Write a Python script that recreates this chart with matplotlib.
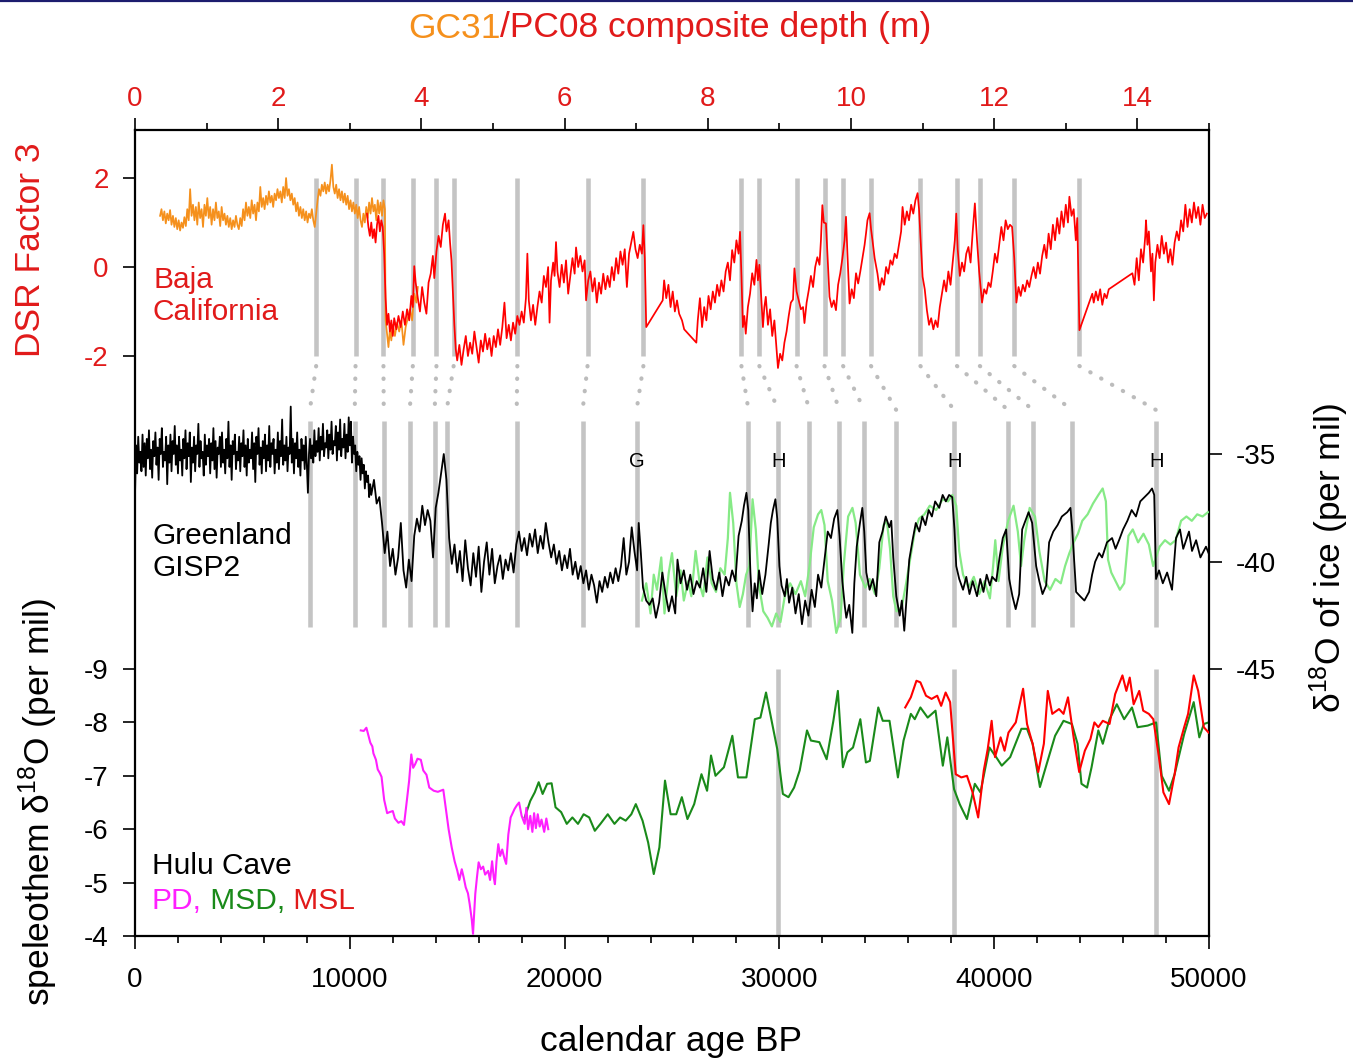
import numpy as np
import matplotlib
matplotlib.use("Agg")
import matplotlib.pyplot as plt
from matplotlib.patches import ConnectionPatch
from matplotlib.lines import Line2D

plt.rcParams['font.family'] = ['Liberation Sans', 'DejaVu Sans']
plt.rcParams['axes.unicode_minus'] = False
plt.rcParams['mathtext.fontset'] = 'custom'
plt.rcParams['mathtext.rm'] = 'Liberation Sans'
plt.rcParams['mathtext.it'] = 'Liberation Sans:italic'

# ---------------- data ----------------
# GC31 (orange) : composite depth (m), DSR factor 3
gc31_depth = [0.35,0.37,0.39,0.41,0.43,0.45,0.47,0.49,0.51,0.53,0.55,0.57,0.59,0.61,0.63,0.65,0.67,0.69,0.71,0.73,
              0.75,0.77,0.79,0.81,0.83,0.85,0.87,0.89,0.91,0.93,0.95,0.97,0.99,1.01,1.03,1.05,1.07,1.09,1.11,1.13,
              1.15,1.17,1.19,1.21,1.23,1.25,1.27,1.29,1.31,1.33,1.35,1.37,1.39,1.41,1.43,1.45,1.47,1.49,1.51,1.53,
              1.55,1.57,1.59,1.61,1.63,1.65,1.67,1.69,1.71,1.73,1.75,1.77,1.79,1.81,1.83,1.85,1.87,1.89,1.91,1.93,
              1.95,1.97,1.99,2.01,2.03,2.05,2.07,2.09,2.11,2.13,2.15,2.17,2.19,2.21,2.23,2.25,2.27,2.29,2.31,2.33,
              2.35,2.37,2.39,2.41,2.43,2.45,2.47,2.49,2.51,2.53,2.55,2.57,2.59,2.61,2.63,2.65,2.67,2.69,2.71,2.73,
              2.75,2.77,2.79,2.81,2.83,2.85,2.87,2.89,2.91,2.93,2.95,2.97,2.99,3.01,3.03,3.05,3.07,3.09,3.11,3.13,
              3.15,3.17,3.19,3.21,3.23,3.25,3.27,3.29,3.31,3.33,3.35,3.37,3.39,3.41,3.43,3.45,3.47,3.49,3.50,3.52,
              3.54,3.56,3.58,3.60,3.63,3.66,3.69,3.72,3.75,3.78,3.81,3.84,3.87,3.90,3.93,3.95]
gc31_dsr = [1.15,1.30,1.05,1.25,0.98,1.20,1.05,1.28,0.95,1.15,0.90,1.10,0.85,1.05,0.82,1.00,0.88,1.12,0.92,1.30,
            1.05,1.75,1.15,1.40,1.05,1.35,0.95,1.45,1.10,1.30,0.90,1.40,1.15,1.55,1.10,1.35,0.95,1.30,1.05,1.45,
            1.10,1.25,0.92,1.35,1.05,1.20,0.95,1.15,0.90,1.10,0.85,1.05,0.90,1.15,0.95,0.85,1.10,0.92,1.30,1.05,
            1.45,1.15,1.35,1.10,1.50,1.20,1.40,1.05,1.45,1.25,1.80,1.35,1.55,1.30,1.60,1.40,1.70,1.45,1.60,1.35,
            1.65,1.50,1.75,1.55,1.70,1.45,1.80,1.55,2.00,1.60,1.75,1.50,1.65,1.40,1.55,1.25,1.45,1.15,1.35,1.10,
            1.30,1.05,1.25,1.00,1.20,1.10,1.30,1.05,0.90,1.20,1.50,1.75,1.60,1.85,1.70,1.90,1.65,1.85,1.70,1.95,
            2.30,1.80,1.65,1.85,1.55,1.75,1.50,1.70,1.45,1.65,1.40,1.60,1.30,1.50,1.25,1.45,1.20,1.40,1.10,1.35,
            1.05,0.90,1.20,1.00,1.35,1.10,1.45,1.20,1.55,1.25,1.40,1.05,1.50,1.20,1.45,1.15,1.50,1.30,-1.20,-1.50,
            -1.80,-1.40,-1.65,-1.30,-1.55,-1.25,-1.45,-1.20,-1.75,-1.35,-1.15,-0.95,-1.20,-0.60,-0.80,-0.45]

# PC08 (red) : composite depth (m), DSR factor 3
pc08_depth = [3.24,3.26,3.28,3.30,3.32,3.34,3.36,3.38,3.40,3.42,3.44,3.46,3.48,3.50,3.52,3.54,3.56,3.58,3.60,3.62,
              3.65,3.68,3.71,3.74,3.77,3.80,3.83,3.86,3.88,3.90,3.92,3.95,3.98,4.01,4.04,4.07,4.10,4.13,4.16,4.18,
              4.21,4.24,4.27,4.30,4.33,4.35,4.38,4.40,4.42,4.44,4.46,4.48,4.50,4.53,4.56,4.59,4.62,4.65,4.68,4.71,
              4.74,4.77,4.80,4.83,4.86,4.89,4.92,4.95,4.98,5.01,5.04,5.07,5.10,5.13,5.16,5.19,5.22,5.25,5.28,5.31,
              5.34,5.37,5.40,5.43,5.46,5.48,5.50,5.53,5.56,5.59,5.62,5.65,5.68,5.71,5.74,5.77,5.79,5.81,5.84,5.86,
              5.88,5.90,5.93,5.96,5.99,6.02,6.05,6.08,6.11,6.14,6.16,6.19,6.22,6.25,6.28,6.30,6.33,6.36,6.39,6.42,
              6.45,6.48,6.51,6.54,6.57,6.60,6.63,6.66,6.69,6.72,6.75,6.78,6.81,6.84,6.87,6.90,6.93,6.96,6.99,7.02,
              7.05,7.08,7.10,7.12,7.14,7.37,7.39,7.42,7.45,7.48,7.51,7.54,7.57,7.60,7.64,7.67,7.84,7.86,7.89,7.92,
              7.95,7.98,8.01,8.04,8.07,8.10,8.13,8.16,8.19,8.22,8.25,8.28,8.31,8.34,8.37,8.40,8.43,8.45,8.47,8.49,
              8.51,8.53,8.56,8.59,8.62,8.65,8.68,8.70,8.72,8.75,8.77,8.79,8.81,8.84,8.87,8.90,8.93,8.96,8.98,9.01,
              9.04,9.07,9.10,9.13,9.16,9.19,9.21,9.24,9.27,9.30,9.33,9.35,9.38,9.41,9.44,9.47,9.50,9.53,9.56,9.58,
              9.60,9.62,9.65,9.67,9.70,9.73,9.76,9.79,9.82,9.85,9.88,9.91,9.93,9.95,9.98,10.01,10.04,10.07,10.10,10.13,
              10.16,10.19,10.21,10.23,10.26,10.28,10.30,10.33,10.37,10.40,10.43,10.46,10.49,10.52,10.55,10.58,10.61,10.64,10.67,10.70,
              10.72,10.75,10.78,10.81,10.84,10.87,10.90,10.93,10.95,10.97,11.00,11.03,11.06,11.09,11.12,11.15,11.18,11.21,11.24,11.27,
              11.30,11.33,11.36,11.39,11.42,11.45,11.47,11.49,11.52,11.55,11.58,11.61,11.64,11.67,11.70,11.73,11.76,11.79,11.83,11.86,
              11.89,11.92,11.95,11.98,12.01,12.04,12.07,12.10,12.13,12.16,12.19,12.22,12.25,12.28,12.31,12.34,12.37,12.40,12.43,12.46,
              12.49,12.52,12.55,12.58,12.61,12.64,12.67,12.70,12.73,12.76,12.79,12.82,12.85,12.88,12.91,12.94,12.97,13.00,13.03,13.05,
              13.08,13.11,13.14,13.16,13.19,13.37,13.39,13.42,13.45,13.48,13.51,13.54,13.57,13.60,13.93,13.96,13.99,14.02,14.05,14.08,
              14.11,14.12,14.14,14.16,14.19,14.21,14.23,14.25,14.28,14.31,14.34,14.37,14.40,14.43,14.46,14.49,14.52,14.55,14.58,14.61,
              14.64,14.67,14.70,14.73,14.76,14.79,14.82,14.85,14.88,14.91,14.94,14.97]
pc08_dsr = [1.20,0.90,0.70,1.00,0.65,0.85,0.55,0.95,1.15,0.80,1.05,0.90,0.30,-0.70,-1.30,-1.05,-1.45,-1.20,-1.55,-1.15,
            -1.40,-1.10,-1.35,-1.00,-1.30,-0.95,-1.20,-0.65,-0.90,0.02,-0.35,-0.70,-1.00,-0.45,-0.80,-1.05,-0.35,-0.15,0.25,-0.25,
            0.35,0.70,0.45,0.95,1.20,0.80,1.05,0.55,0.15,-0.60,-1.30,-1.85,-2.10,-1.75,-2.20,-1.85,-1.55,-2.00,-1.70,-1.95,
            -1.45,-1.80,-2.15,-1.65,-1.90,-1.50,-1.85,-1.60,-2.00,-1.55,-1.80,-1.40,-1.75,-1.35,-0.80,-1.60,-1.30,-1.65,-1.25,-1.50,
            -1.10,-1.30,-1.00,-1.25,-0.70,0.30,-0.75,-1.20,-0.85,-1.30,-0.90,-0.55,-0.80,-0.20,-0.45,0.00,-1.25,-0.30,0.10,-0.20,
            0.56,-0.10,-0.45,0.05,-0.35,0.15,-0.60,-0.20,0.20,-0.15,0.44,0.00,0.25,-0.10,0.15,-0.75,-0.30,-0.10,-0.55,-0.25,
            -0.80,-0.35,-0.60,-0.15,-0.50,-0.20,-0.45,0.00,-0.30,0.20,-0.15,0.35,0.05,0.40,-0.45,0.30,0.55,0.79,0.40,0.20,
            0.50,0.30,0.94,0.20,-1.35,-0.75,-0.30,-0.70,-0.40,-0.90,-0.55,-1.00,-0.75,-1.05,-1.20,-1.40,-1.70,-1.20,-0.70,-1.35,
            -0.90,-1.20,-0.65,-0.95,-0.55,-0.80,-0.40,-0.65,-0.30,-0.55,-0.10,0.10,-0.30,0.38,0.10,0.60,0.30,0.79,-0.20,-1.35,
            -1.10,-1.50,-0.90,-0.60,-0.14,-0.40,0.16,-0.30,0.05,-0.80,-1.35,-0.90,-0.67,-1.30,-0.95,-1.55,-1.20,-1.85,-2.27,-1.95,
            -2.10,-1.70,-1.45,-1.10,-0.80,-0.73,-0.03,-0.55,-0.75,-0.95,-0.90,-1.26,-0.80,-0.52,-0.20,-0.45,0.00,0.22,0.05,0.60,
            1.39,1.00,0.98,0.30,-0.67,-0.90,-0.75,-0.97,-0.40,-0.14,0.20,0.60,1.13,0.30,-0.82,-0.50,-0.70,-0.14,-0.37,-0.10,
            0.20,0.50,0.76,1.05,1.21,0.85,0.60,0.20,-0.15,-0.52,-0.25,-0.40,0.00,-0.15,0.15,0.05,0.30,0.20,0.50,0.80,
            1.35,0.95,1.25,1.05,1.40,1.20,1.50,1.66,1.30,0.67,-0.22,-0.50,-0.97,-1.30,-1.15,-1.40,-1.20,-1.35,-0.90,-0.60,
            -0.30,-0.55,-0.10,-0.40,0.10,0.60,1.20,0.40,-0.20,0.10,-0.10,0.30,0.45,0.10,0.80,1.43,0.60,-0.10,-0.80,-0.50,
            -0.60,-0.35,-0.45,-0.10,0.30,0.10,0.50,0.90,0.60,1.05,0.85,0.95,0.90,0.20,-0.80,-0.45,-0.65,-0.40,-0.55,-0.30,
            -0.45,-0.20,0.00,-0.25,0.10,-0.15,0.25,0.50,0.20,0.75,0.40,0.95,0.60,1.10,0.75,1.25,0.90,1.40,1.00,1.58,
            1.15,1.30,0.60,1.10,-1.42,-0.60,-0.80,-0.55,-0.75,-0.50,-0.85,-0.60,-0.70,-0.50,-0.14,-0.40,0.20,-0.30,0.40,0.10,
            0.70,1.05,0.50,0.80,-0.10,0.30,-0.75,0.10,0.50,0.20,0.70,0.30,0.55,0.10,0.40,0.05,0.55,0.80,0.60,1.05,
            0.80,1.40,0.90,1.30,1.00,1.45,1.10,1.35,0.95,1.40,1.10,1.20]

# GISP2 (black): calendar age BP, d18O of ice (per mil)
# Holocene part sampled every 50 yr from 0 BP
gisp2_holo_step = 50
gisp2_holo = [-36.9,-34.6,-35.9,-34.2,-35.4,-34.9,-35.8,-34.1,-35.6,-34.5,
              -36.0,-34.3,-35.2,-33.9,-35.7,-34.8,-36.1,-34.4,-35.1,-34.0,
              -35.5,-34.7,-36.2,-34.3,-35.0,-33.8,-35.6,-34.9,-35.3,-34.2,
              -36.4,-34.6,-35.4,-34.1,-35.8,-34.4,-35.0,-33.7,-35.5,-34.6,
              -35.9,-34.2,-35.3,-34.8,-36.0,-34.3,-35.2,-33.9,-35.7,-34.5,
              -35.1,-34.0,-36.3,-34.7,-35.4,-34.2,-35.8,-34.6,-35.0,-33.6,
              -35.6,-34.4,-35.2,-34.9,-36.0,-34.1,-35.5,-34.6,-35.1,-34.3,
              -35.9,-34.5,-35.3,-33.8,-35.7,-34.4,-36.1,-34.7,-35.0,-34.2,
              -35.6,-34.0,-35.4,-34.8,-35.9,-34.3,-35.2,-33.5,-35.6,-34.6,
              -36.2,-34.4,-35.0,-34.1,-35.7,-34.9,-35.3,-34.2,-35.8,-34.5,
              -35.1,-33.9,-35.6,-34.6,-36.0,-34.3,-35.4,-34.8,-35.2,-34.0,
              -35.7,-34.5,-36.3,-34.2,-35.0,-33.8,-35.5,-34.7,-35.9,-34.4,
              -35.2,-34.1,-35.8,-34.6,-35.3,-33.7,-35.6,-34.5,-35.0,-34.3,
              -35.9,-34.8,-35.4,-34.0,-35.7,-34.4,-35.1,-33.4,-35.5,-34.6,
              -35.3,-34.2,-35.8,-34.7,-35.0,-32.8,-35.4,-34.3,-35.9,-34.5,
              -35.2,-34.0,-35.6,-34.8,-36.0,-34.3,-35.3,-34.6,-35.7,-34.2,
              -35.5,-36.8,-35.0,-34.3,-35.2,-34.6,-35.4,-33.9,-35.1,-34.4,
              -34.9,-33.8,-35.3,-34.2,-34.8,-33.6,-35.1,-34.5,-34.7,-33.9,
              -35.2,-34.1,-34.8,-33.5,-35.0,-34.4,-34.6,-33.7,-35.3,-34.0,
              -34.8,-33.4,-35.1,-34.3,-34.7,-33.6,-35.2,-34.1,-34.9,-33.3,
              -34.6,-33.5,-35.4,-34.2,-35.0,-34.6,-35.8,-34.9,-35.5,-35.1,
              -36.2,-35.2,-35.9,-35.5,-36.6,-35.8,-36.3,-36.0,-37.0,-36.4]
# deglacial / LGM part sampled every 125 yr from 11000 BP
gisp2_degl_start = 11000
gisp2_degl_step = 125
gisp2_degl = [-36.9,-36.2,
              -37.3,-37.0,-38.2,-39.6,-38.6,-40.2,-39.4,-40.6,-39.8,-38.2,
              -40.4,-41.2,-39.9,-40.9,-38.8,-38.0,-38.6,-37.4,-38.3,-37.6,
              -38.1,-39.8,-37.5,-36.8,-35.9,-35.0,-36.2,-38.9,-40.1,-39.2,
              -40.5,-39.5,-40.9,-39.0,-40.3,-41.1,-39.6,-40.7,-39.3,-41.4,
              -40.0,-39.1,-40.6,-39.4,-41.0,-40.2,-39.7,-40.8,-39.9,-40.4,
              -39.6,-40.5,-39.2,-38.6,-39.5,-38.9,-39.7,-38.7,-39.3,-38.5,
              -39.6,-38.8,-39.4,-38.2,-39.1,-39.8,-39.2,-40.1,-39.5,-40.4,
              -39.7,-40.3,-39.4,-40.6,-40.0,-40.8,-40.2,-41.0,-40.4,-41.3,
              -40.6,-41.1,-41.9,-40.9,-41.4,-40.7,-41.2,-40.5,-41.0,-40.3,
              -40.9,-40.2,-38.9,-40.6,-40.0,-38.4,-39.5,-40.4]
gisp2_late = [(23450,-38.2),(23550,-39.6),(23650,-41.2),(23800,-41.8),(23950,-42.0),(24100,-41.7),(24250,-42.6),
              (24400,-41.9),(24550,-40.5),(24700,-41.5),(24850,-42.3),(25000,-41.6),(25150,-42.4),(25255,-39.9),
              (25400,-41.0),(25550,-40.4),(25700,-41.3),(25850,-40.6),(26000,-41.5),(26150,-40.9),(26300,-41.2),
              (26450,-40.3),(26600,-41.4),(26750,-39.5),(26900,-40.8),(27050,-41.3),(27200,-40.5),(27350,-41.6),
              (27500,-40.7),(27650,-41.1),(27800,-40.4),(27950,-40.9),(28100,-38.8),(28250,-38.1),(28350,-37.4),
              (28465,-36.8),(28550,-37.6),(28650,-40.5),(28750,-42.3),(28850,-41.0),(28950,-41.7),(29050,-40.4),
              (29200,-41.5),(29350,-40.6),(29500,-39.2),(29600,-38.2),(29700,-37.6),(29813,-37.1),(29900,-38.0),
              (30000,-40.2),(30100,-41.1),(30250,-41.6),(30350,-40.8),(30450,-41.9),(30600,-41.2),(30750,-42.4),
              (30900,-41.5),(31050,-42.9),(31200,-41.8),(31350,-42.5),(31500,-41.3),(31650,-42.1),(31800,-40.6),
              (31950,-41.2),(32100,-39.9),(32250,-38.6),(32400,-38.9),(32550,-38.0),(32697,-37.6),(32800,-38.8),
              (32930,-40.9),(33050,-42.1),(33116,-42.6),(33250,-42.0),(33395,-43.3),(33488,-41.0),(33600,-39.3),
              (33750,-38.2),(33860,-37.5),(33950,-38.6),(34046,-40.5),(34200,-41.3),(34350,-40.8),(34511,-41.6),
              (34651,-39.1),(34800,-38.6),(34950,-37.9),(35116,-38.4),(35209,-38.1),(35300,-39.8),(35442,-41.6),
              (35600,-42.5),(35700,-41.8),(35813,-43.2),(35950,-41.3),(36046,-39.9),(36200,-39.0),(36350,-38.2),
              (36511,-38.6),(36650,-37.9),(36800,-38.3),(36950,-37.6),(37100,-37.9),(37250,-37.2),(37441,-37.5),
              (37600,-36.9),(37750,-37.2),(37900,-36.9),(38046,-37.0),(38150,-38.5),(38232,-40.2),(38372,-40.8),
              (38550,-41.3),(38700,-40.7),(38850,-41.5),(39000,-40.9),(39200,-41.6),(39350,-40.8),(39500,-41.4),
              (39650,-40.6),(39800,-41.1),(39906,-40.7),(40092,-40.9),(40250,-39.8),(40400,-38.9),(40557,-38.5),
              (40697,-40.8),(40850,-41.6),(41000,-42.2),(41162,-41.5),(41302,-38.5),(41450,-38.1),(41600,-37.7),
              (41767,-38.2),(41953,-40.2),(42100,-40.9),(42250,-41.5),(42418,-41.1),(42557,-39.1),(42750,-38.6),
              (42950,-38.3),(43150,-37.9),(43400,-37.7),(43550,-37.5),(43627,-38.4),(43813,-41.4),(44000,-41.6),
              (44200,-41.8),(44418,-41.4),(44558,-40.6),(44700,-40.0),(44883,-39.6),(45023,-39.8),(45250,-39.1),
              (45488,-38.9),(45650,-39.4),(45813,-39.0),(46000,-38.5),(46200,-38.1),(46400,-37.6),(46600,-37.9),
              (46800,-37.2),(47000,-37.0),(47200,-36.8),(47348,-36.6),(47450,-36.9),(47534,-40.8),(47674,-40.4),
              (47850,-41.0),(48050,-40.5),(48279,-41.3),(48465,-38.9),(48650,-38.5),(48800,-39.4),(49069,-38.6),
              (49209,-39.5),(49400,-39.0),(49600,-39.8),(49860,-39.3),(49980,-39.6)]

# second ice record (light green)
ice2 = [(23600,-41.8),(23800,-41.0),(24000,-42.4),(24150,-40.6),(24300,-41.3),(24500,-39.8),(24650,-42.4),
        (24850,-40.5),(25000,-39.6),(25200,-41.6),(25400,-40.4),(25550,-41.8),(25750,-40.9),(25900,-41.6),
        (26100,-39.5),(26300,-41.1),(26450,-41.6),(26650,-39.8),(26850,-41.0),(27050,-41.4),(27250,-40.3),
        (27450,-40.6),(27600,-38.9),(27700,-36.8),(27850,-38.2),(28000,-41.0),(28150,-42.1),(28300,-41.5),
        (28450,-40.6),(28600,-40.2),(28750,-37.1),(28900,-38.5),(29050,-41.1),(29250,-42.3),(29450,-42.6),
        (29650,-43.0),(29850,-42.4),(30050,-42.8),(30250,-41.6),(30500,-41.0),(30750,-41.5),(31000,-40.9),
        (31200,-41.6),(31400,-40.2),(31600,-38.4),(31800,-37.8),(31950,-37.6),(32100,-38.3),(32250,-40.9),
        (32450,-41.8),(32650,-43.3),(32850,-42.6),(33000,-40.1),(33200,-37.9),(33400,-37.5),(33550,-38.2),
        (33750,-40.6),(34000,-41.2),(34200,-40.8),(34450,-41.5),(34650,-40.3),(34850,-38.3),(35000,-38.1),
        (35150,-39.4),(35300,-41.6),(35450,-42.3),(35700,-42.1),(35900,-41.0),(36100,-39.8),(36300,-38.6),
        (36500,-38.0),(36750,-37.8),(37000,-37.4),(37300,-37.6),(37600,-37.1),(37850,-37.2),(38050,-36.9),
        (38232,-37.4),(38372,-39.5),(38550,-40.6),(38800,-41.2),(39050,-40.7),(39300,-41.5),(39550,-40.9),
        (39800,-41.7),(39950,-40.2),(40050,-39.0),(40200,-40.9),(40400,-39.3),(40650,-38.1),(40900,-37.4),
        (41100,-38.6),(41250,-40.2),(41400,-39.0),(41650,-37.5),(41900,-37.9),(42100,-39.5),(42350,-40.9),
        (42600,-41.3),(42850,-40.8),(43100,-41.0),(43300,-40.2),(43500,-39.6),(43700,-39.1),(43900,-38.7),
        (44100,-38.1),(44350,-37.8),(44600,-37.3),(44850,-36.9),(45050,-36.6),(45200,-37.2),(45300,-39.9),
        (45450,-40.5),(45650,-40.9),(45850,-41.3),(46050,-41.0),(46250,-38.8),(46450,-38.5),(46700,-39.1),
        (46950,-38.7),(47200,-39.2),(47400,-40.2),(47534,-39.8),(47700,-39.3),(47950,-39.0),(48200,-39.2),
        (48450,-39.0),(48700,-38.1),(48950,-37.9),(49200,-38.1),(49450,-37.8),(49700,-37.9),(49950,-37.7)]

# Hulu Cave speleothems: calendar age BP, d18O (per mil)
hulu_pd = [(10511,-7.85),(10650,-7.84),(10772,-7.90),(10870,-7.75),(10955,-7.62),(11050,-7.55),(11100,-7.42),
           (11217,-7.30),(11300,-7.12),(11400,-7.05),(11478,-6.98),(11600,-6.55),(11739,-6.30),(11850,-6.32),
           (12001,-6.34),(12100,-6.20),(12262,-6.12),(12400,-6.15),(12523,-6.08),(12654,-6.53),(12760,-6.90),
           (12863,-7.40),(12950,-7.15),(13046,-7.22),(13150,-7.32),(13307,-7.30),(13420,-7.10),(13569,-7.02),
           (13700,-6.78),(13908,-6.72),(14100,-6.70),(14352,-6.74),(14483,-6.35),(14600,-6.00),(14744,-5.66),
           (14880,-5.40),(15006,-5.22),(15100,-5.05),(15213,-5.25),(15300,-5.10),(15397,-4.91),(15500,-4.80),
           (15580,-4.60),(15680,-4.30),(15737,-4.04),(15800,-4.50),(15842,-4.79),(15920,-5.10),(15998,-5.38),
           (16100,-5.25),(16207,-5.30),(16300,-5.15),(16442,-5.22),(16530,-5.05),(16625,-5.40),(16700,-5.10),
           (16756,-4.97),(16830,-5.40),(16913,-5.72),(17000,-5.50),(17096,-5.62),(17200,-5.45),(17279,-5.35),
           (17380,-5.90),(17488,-6.22),(17580,-6.30),(17671,-6.38),(17780,-6.45),(17880,-6.50),(18000,-6.25),
           (18141,-6.10),(18220,-6.40),(18300,-6.00),(18402,-6.25),(18500,-5.95),(18580,-6.30),(18664,-6.02),
           (18750,-6.28),(18840,-6.05),(18925,-6.18),(19050,-5.95),(19150,-6.20),(19239,-6.00)]
hulu_msd = [(18141,-6.22),(18402,-6.53),(18611,-6.69),(18794,-6.88),(18977,-6.66),(19186,-6.85),(19395,-6.86),
            (19578,-6.41),(19839,-6.32),(20101,-6.10),(20362,-6.22),(20623,-6.10),(20885,-6.28),(21146,-6.22),
            (21407,-5.97),(21669,-6.10),(22009,-6.28),(22322,-6.10),(22583,-6.22),(22845,-6.16),(23106,-6.28),
            (23315,-6.47),(23629,-6.16),(23890,-5.75),(24151,-5.16),(24413,-5.66),(24674,-6.91),(24935,-6.28),
            (25197,-6.28),(25458,-6.60),(25719,-6.19),(26033,-6.47),(26372,-7.03),(26633,-6.72),(26816,-7.38),
            (27025,-7.00),(27417,-7.16),(27809,-7.75),(28071,-6.97),(28463,-6.97),(28855,-8.06),(29116,-8.09),
            (29377,-8.56),(29638,-8.03),(29900,-7.50),(30161,-6.66),(30422,-6.60),(30684,-6.78),(30945,-7.10),
            (31285,-7.85),(31468,-7.66),(31860,-7.63),(32199,-7.31),(32513,-8.03),(32722,-8.59),(32957,-7.16),
            (33166,-7.44),(33427,-7.53),(33767,-8.06),(34028,-7.25),(34211,-7.28),(34603,-8.28),(34812,-8.03),
            (35126,-8.03),(35518,-6.97),(35779,-7.66),(36119,-8.16),(36302,-8.06),(36563,-8.28),(36903,-8.09),
            (37268,-8.22),(37608,-7.19),(37817,-7.72),(38131,-6.75),(38392,-6.47),(38732,-6.19),(39098,-6.85),
            (39359,-6.69),(39777,-7.53),(40091,-7.35),(40352,-7.19),(40744,-7.35),(41266,-7.88),(41528,-7.88),
            (41789,-7.60),(42129,-6.79),(42443,-7.22),(42835,-7.75),(43227,-8.03),(43618,-7.97),(43880,-7.60),
            (44063,-6.85),(44324,-6.78),(44533,-7.16),(44847,-7.85),(45056,-7.60),(45370,-8.06),(45709,-8.34),
            (46049,-8.06),(46414,-8.28),(46675,-7.91),(47146,-7.94),(47538,-8.00),(47799,-7.00),(48139,-6.72),
            (48400,-7.03),(48844,-7.78),(49288,-8.38),(49550,-7.72),(49759,-7.97),(49980,-8.00)]
hulu_msl = [(35858,-8.28),(36119,-8.47),(36380,-8.78),(36563,-8.75),(36824,-8.50),(37085,-8.44),(37347,-8.50),
            (37530,-8.31),(37739,-8.56),(37948,-8.38),(38209,-7.03),(38470,-6.97),(38732,-7.00),(38993,-6.69),
            (39254,-6.22),(39515,-7.10),(39698,-7.50),(39881,-8.03),(40038,-7.35),(40299,-7.72),(40482,-7.47),
            (40665,-7.81),(41005,-8.00),(41345,-8.63),(41528,-7.97),(41789,-7.60),(42050,-7.07),(42312,-7.60),
            (42495,-8.59),(42704,-8.16),(43018,-8.25),(43227,-8.16),(43436,-8.47),(43697,-7.72),(43958,-7.07),
            (44220,-7.47),(44481,-7.69),(44664,-8.00),(44847,-7.91),(45056,-8.03),(45370,-7.97),(45631,-8.53),
            (45970,-8.88),(46153,-8.59),(46310,-8.84),(46492,-8.34),(46753,-8.59),(46936,-8.22),(47198,-8.16),
            (47407,-8.06),(47668,-7.35),(47877,-6.69),(48139,-6.47),(48400,-7.03),(48583,-7.53),(48844,-7.91),
            (49027,-8.16),(49288,-8.88),(49497,-8.59),(49759,-7.91),(49980,-7.81)]

# event tie points
top_bar_depth = [2.53, 3.08, 3.47, 3.88, 4.21, 4.45, 5.34, 6.32, 7.10, 8.47, 8.72, 9.24, 9.63, 9.89,
                 10.28, 10.97, 11.48, 11.80, 12.28, 13.19]
mid_bar_age = [8140, 10230, 11580, 12790, 13950, 14510, 17770, 20840, 23350, 28560, 29950, 31400, 32790,
               33950, 35440, 38140, 40650, 41810, 43630, 47540]
bot_bar_age = [29950, 38140, 47540]
event_age = [23350, 29950, 38140, 47540]
event_label = ['G', 'H', 'H', 'H']

# ---------------- style ----------------
C_ORANGE = '#f5901c'
C_RED = '#ff0000'
C_RED_TXT = '#e11a1a'
C_BLACK = '#000000'
C_LGREEN = '#86ea86'
C_DGREEN = '#1a8a1a'
C_MAG = '#ff1fff'
C_BAR = '#c4c4c4'
C_DOT = '#bcbcbc'

W, H = 1353, 1061
fig = plt.figure(figsize=(W / 100, H / 100), dpi=100)
L, R, T, B = 135, 1209, 130, 936
rect = [L / W, 1 - B / H, (R - L) / W, (B - T) / H]

ax_bot = fig.add_axes(rect)
ax_mid = fig.add_axes(rect, frameon=False)
ax_top = fig.add_axes(rect, frameon=False)

TICK_FS = 20
tick_kw = dict(direction='out', width=1.2, colors='black')

# bottom axes: speleothem + calendar age
ax_bot.set_xlim(0, 50000)
ax_bot.set_ylim(-4, -19.094)
for s in ax_bot.spines.values():
    s.set_linewidth(1.6)
ax_bot.set_xticks([0, 10000, 20000, 30000, 40000, 50000])
ax_bot.set_xticks(np.arange(0, 50001, 2000), minor=True)
ax_bot.set_yticks([-9, -8, -7, -6, -5, -4])
ax_bot.tick_params(axis='x', which='major', length=9, pad=13, labelsize=TICK_FS, **tick_kw)
ax_bot.tick_params(axis='x', which='minor', length=5, **tick_kw)
ax_bot.tick_params(axis='y', which='major', length=9, pad=10, labelsize=TICK_FS, **tick_kw)
ax_bot.tick_params(axis='y', which='minor', left=False)

# middle axes: ice d18O
ax_mid.set_xlim(0, 50000)
ax_mid.set_ylim(-57.367, -19.965)
ax_mid.set_xticks([])
ax_mid.yaxis.tick_right()
ax_mid.set_yticks([-35, -40, -45])
ax_mid.tick_params(axis='y', which='major', length=9, pad=10, labelsize=TICK_FS, **tick_kw)

# top axes: depth + DSR
ax_top.set_xlim(0, 15)
ax_top.set_ylim(-15.034, 3.079)
ax_top.xaxis.tick_top()
ax_top.set_xticks([0, 2, 4, 6, 8, 10, 12, 14])
ax_top.set_xticks([1, 3, 5, 7, 9, 11, 13, 15], minor=True)
ax_top.set_yticks([-2, 0, 2])
ax_top.tick_params(axis='x', which='major', length=9, pad=4, labelsize=TICK_FS, labelcolor=C_RED_TXT,
                   direction='out', width=1.2, color='black')
ax_top.tick_params(axis='x', which='minor', length=5, direction='out', width=1.2, color='black')
ax_top.tick_params(axis='y', which='major', length=9, pad=10, labelsize=TICK_FS, labelcolor=C_RED_TXT,
                   direction='out', width=1.2, color='black')

# gray event bars
ax_top.vlines(top_bar_depth, -2, 2, colors=C_BAR, lw=3.3, zorder=1)
ax_mid.vlines(mid_bar_age, -43.03, -33.47, colors=C_BAR, lw=3.3, zorder=1)
ax_bot.vlines(bot_bar_age, -9, -4, colors=C_BAR, lw=3.3, zorder=1)

# dotted tie lines between DSR events and GISP2 events
for d, a in zip(top_bar_depth, mid_bar_age):
    cp = ConnectionPatch(xyA=(d, -2.225), coordsA=ax_top.transData,
                         xyB=(a, -32.96), coordsB=ax_mid.transData,
                         color=C_DOT, lw=3.0, linestyle=(0, (0.1, 2.9)), capstyle='round')
    fig.add_artist(cp)

# series
ax_top.plot(gc31_depth, gc31_dsr, color=C_ORANGE, lw=1.25, zorder=2)
ax_top.plot(pc08_depth, pc08_dsr, color=C_RED, lw=1.25, zorder=3)

ice2_age, ice2_val = zip(*ice2)
ax_mid.plot(ice2_age, ice2_val, color=C_LGREEN, lw=1.6, zorder=2)
holo_age = np.arange(len(gisp2_holo)) * gisp2_holo_step
degl_age = gisp2_degl_start + np.arange(len(gisp2_degl)) * gisp2_degl_step
late_age, late_val = zip(*gisp2_late)
gisp2_age = list(holo_age) + list(degl_age) + list(late_age)
gisp2_val = list(gisp2_holo) + list(gisp2_degl) + list(late_val)
ax_mid.plot(gisp2_age, gisp2_val, color=C_BLACK, lw=1.3, zorder=3)

for lab, a in zip(event_label, event_age):
    ax_mid.text(a, -35.37, lab, ha='center', va='center', fontsize=14.5, color='black')

msd_age, msd_val = zip(*hulu_msd)
pd_age, pd_val = zip(*hulu_pd)
msl_age, msl_val = zip(*hulu_msl)
ax_bot.plot(msd_age, msd_val, color=C_DGREEN, lw=1.5, zorder=2)
ax_bot.plot(pd_age, pd_val, color=C_MAG, lw=1.5, zorder=3)
ax_bot.plot(msl_age, msl_val, color=C_RED, lw=1.5, zorder=4)

# ---------------- text ----------------
def fx(px):
    return px / W

def fy(py):
    return 1 - py / H

LBL_FS = 25.5
IN_FS = 21.5

t1 = fig.text(fx(408), fy(28), 'GC31', color=C_ORANGE, fontsize=LBL_FS, ha='left', va='center')
ax_bot.annotate('/PC08 composite depth (m)', xy=(1, 0), xycoords=t1, ha='left', va='bottom',
                color=C_RED_TXT, fontsize=LBL_FS, annotation_clip=False)

fig.text(fx(671), fy(1042), 'calendar age BP', fontsize=LBL_FS, ha='center', va='center')
fig.text(fx(30), fy(250), 'DSR Factor 3', fontsize=LBL_FS, color=C_RED_TXT, rotation=90,
         ha='center', va='center')
fig.text(fx(38), fy(802), r'speleothem δ$^{18}$O (per mil)', fontsize=LBL_FS, rotation=90,
         ha='center', va='center')
fig.text(fx(1329), fy(558), r'δ$^{18}$O of ice (per mil)', fontsize=LBL_FS, rotation=90,
         ha='center', va='center')

fig.text(fx(153), fy(296), 'Baja\nCalifornia', fontsize=IN_FS, color=C_RED_TXT, ha='left', va='center',
         linespacing=1.2)
fig.text(fx(152), fy(552), 'Greenland\nGISP2', fontsize=IN_FS, color='black', ha='left', va='center',
         linespacing=1.2)
fig.text(fx(152), fy(866), 'Hulu Cave', fontsize=IN_FS, color='black', ha='left', va='center')
t_pd = fig.text(fx(152), fy(901), 'PD,', fontsize=IN_FS, color=C_MAG, ha='left', va='center')
t_msd = ax_bot.annotate(' MSD,', xy=(1, 0), xycoords=t_pd, ha='left', va='bottom', fontsize=IN_FS,
                        color=C_DGREEN, annotation_clip=False)
ax_bot.annotate(' MSL', xy=(1, 0), xycoords=t_msd, ha='left', va='bottom', fontsize=IN_FS,
                color=C_RED_TXT, annotation_clip=False)

# thin navy frame line at the very top of the slide
fig.add_artist(Line2D([0, 1], [fy(1), fy(1)], transform=fig.transFigure, color='#1c1c6e', lw=1.6))

fig.savefig('out.png', dpi=100)
